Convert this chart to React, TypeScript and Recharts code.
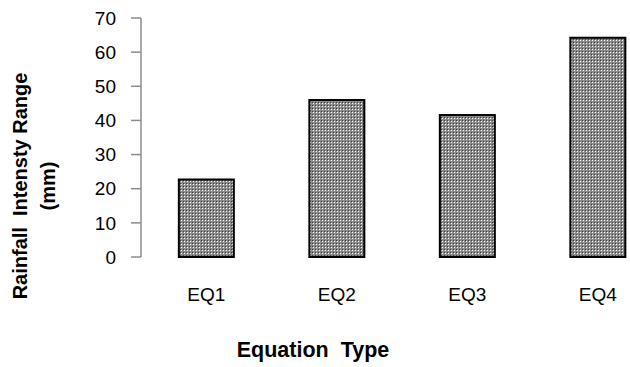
import { BarChart, Bar, XAxis, YAxis } from "recharts";

const categories = ["EQ1", "EQ2", "EQ3", "EQ4"];
const rainfallRange = [22.7, 46.0, 41.6, 64.2];
const yTicks = [0, 10, 20, 30, 40, 50, 60, 70];
const boundaryTicks = [0, 1, 2, 3, 4];

const data = categories.map((name, i) => ({ name, value: rainfallRange[i], pos: i + 0.5 }));

const FONT = "'Liberation Sans', Arial, sans-serif";
const AXIS = "#8c8c8c";

export default function App() {
  return (
    <div style={{ position: "fixed", left: 0, top: 0, width: 630, height: 367, overflow: "hidden", background: "#fff", fontFamily: FONT }}>
      <BarChart
        width={700}
        height={367}
        data={data}
        margin={{ top: 18, right: 37, bottom: 0, left: 0 }}
        barCategoryGap="29%"
      >
        <defs>
          <pattern id="dots" width="3" height="3" patternUnits="userSpaceOnUse">
            <rect width="3" height="3" fill="#8a8a8a" />
            <rect x="1" y="1" width="1" height="1" fill="#ffffff" />
            <rect x="0" y="0" width="1" height="1" fill="#404040" />
          </pattern>
        </defs>
        <XAxis
          xAxisId="grid"
          type="number"
          dataKey="pos"
          domain={[0, 4]}
          ticks={boundaryTicks}
          height={0}
          tick={false}
          tickSize={7}
          stroke={AXIS}
          strokeWidth={1.5}
        />
        <XAxis
          xAxisId="cat"
          dataKey="name"
          height={110}
          axisLine={false}
          tickLine={false}
          tickMargin={25}
          tick={{ fill: "#000", fontSize: 19, fontFamily: FONT }}
        />
        <YAxis
          width={141}
          domain={[0, 70]}
          ticks={yTicks}
          tickSize={10}
          tickMargin={15}
          stroke={AXIS}
          strokeWidth={1.5}
          tick={{ fill: "#000", fontSize: 19, fontFamily: FONT }}
        />
        <Bar
          xAxisId="cat"
          dataKey="value"
          fill="url(#dots)"
          stroke="#000"
          strokeWidth={2}
          isAnimationActive={false}
        />
      </BarChart>
      <div
        style={{
          position: "absolute",
          left: 34,
          top: 186,
          transform: "translate(-50%, -50%) rotate(-90deg)",
          fontWeight: "bold",
          fontSize: 20,
          textAlign: "center",
          whiteSpace: "pre",
          lineHeight: "28px",
          color: "#000",
        }}
      >
        {"Rainfall  Intensty Range\n(mm)"}
      </div>
      <div
        style={{
          position: "absolute",
          left: 313,
          top: 350,
          transform: "translate(-50%, -50%)",
          fontWeight: "bold",
          fontSize: 21.5,
          whiteSpace: "pre",
          color: "#000",
        }}
      >
        {"Equation  Type"}
      </div>
    </div>
  );
}
